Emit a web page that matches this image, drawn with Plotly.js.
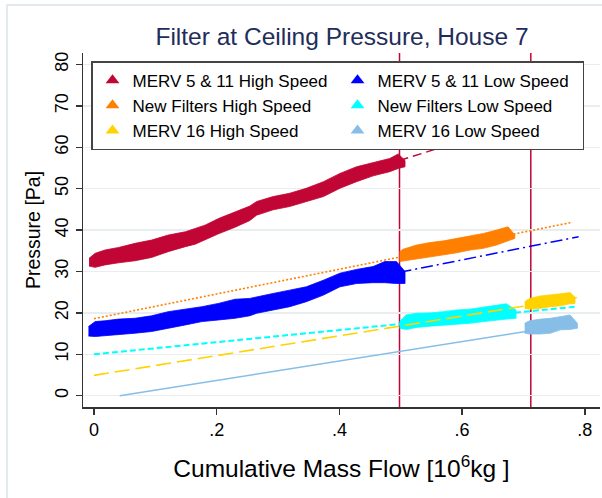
<!DOCTYPE html>
<html><head><meta charset="utf-8">
<script src="https://cdn.plot.ly/plotly-3.0.1.min.js"></script>
<style>html,body{margin:0;padding:0;background:#fff}#chart{width:602px;height:498px}</style>
</head><body><div id="chart"></div>
<script>
// ---- series names (legend order: row-major, two columns)
const legendNames = ["MERV 5 & 11 High Speed","MERV 5 & 11 Low Speed","New Filters High Speed","New Filters Low Speed","MERV 16 High Speed","MERV 16 Low Speed"];
const legendColors = ["#c10534","#0000ff","#ff7f00","#00ffff","#ffd200","#86bee7"];

// ---- measured data bands (cumulative mass flow [10^6 kg], pressure envelope [Pa])
const m511HighX  = [-0.008,0.002,0.018,0.040,0.067,0.094,0.121,0.149,0.165,0.181,0.203,0.230,0.254,0.265,0.292,0.319,0.346,0.374,0.401,0.428,0.455,0.482,0.496,0.507];
const m511HighHi = [33.2,34.4,35.2,35.8,36.8,37.6,38.8,39.6,40.4,41.2,42.8,44.4,45.8,46.9,48.1,48.9,50.1,51.7,53.7,55.3,56.3,57.3,58.4,56.8];
const m511HighLo = [31.3,31.0,31.6,32.1,32.6,33.4,34.8,36.0,36.6,37.6,39.1,40.7,42.3,43.6,44.9,45.7,46.9,48.1,50.1,51.7,53.1,54.1,54.9,55.3];

const m511LowX  = [-0.009,0.002,0.018,0.040,0.067,0.094,0.121,0.149,0.176,0.203,0.230,0.254,0.265,0.292,0.319,0.346,0.374,0.401,0.428,0.455,0.474,0.493,0.507];
const m511LowHi = [16.7,17.9,18.1,18.5,18.7,19.3,20.3,20.9,21.5,22.3,23.3,23.5,23.9,24.7,25.5,26.3,27.9,29.6,30.5,31.2,32.4,32.4,30.0];
const m511LowLo = [14.4,14.3,14.4,14.7,15.1,15.5,16.3,17.1,17.9,18.3,18.7,19.3,19.9,20.7,21.5,22.7,24.3,26.3,27.1,27.3,27.3,27.1,27.1];

const newHighX  = [0.498,0.504,0.526,0.548,0.570,0.591,0.613,0.635,0.656,0.675,0.686];
const newHighHi = [34.8,35.4,36.4,37.0,37.4,38.0,38.6,39.2,40.0,40.8,38.8];
const newHighLo = [32.4,32.4,32.9,33.6,34.0,34.5,35.2,35.6,36.4,37.4,38.0];

const newLowX  = [0.498,0.509,0.526,0.548,0.570,0.591,0.613,0.635,0.656,0.672,0.688];
const newLowHi = [17.9,19.5,19.9,20.0,20.3,20.7,20.9,21.4,21.9,22.2,20.7];
const newLowLo = [16.3,16.0,16.5,16.8,17.0,17.3,17.5,17.9,18.3,18.5,18.7];

const m16HighX  = [0.702,0.710,0.728,0.744,0.760,0.776,0.784];
const m16HighHi = [22.7,23.5,24.1,24.3,24.6,24.9,23.8];
const m16HighLo = [21.1,20.9,21.1,21.5,21.7,22.2,22.3];

const m16LowX  = [0.702,0.710,0.728,0.744,0.760,0.776,0.788];
const m16LowHi = [17.5,18.1,18.5,18.7,19.1,19.5,17.5];
const m16LowLo = [15.1,14.9,14.9,15.1,15.9,16.0,16.3];

// ---- linear fit lines (end points)
const fitM511HighX = [0.498, 0.78], fitM511HighY = [56.8, 70.0];
const fitNewHighX  = [0.0, 0.78],   fitNewHighY  = [18.6, 41.9];
const fitM511LowX  = [0.498, 0.79], fitM511LowY  = [29.8, 38.4];
const fitNewLowX   = [0.0, 0.785],  fitNewLowY   = [10.0, 21.5];
const fitM16HighX  = [0.0, 0.787],  fitM16HighY  = [4.9, 23.7];
const fitM16LowX   = [0.042, 0.712],fitM16LowY   = [0.0, 15.7];

// ---- filter change events
const filterChangeX = [0.498, 0.712];

// ---- ticks
const xTickVals = [0, 0.2, 0.4, 0.6, 0.8];
const xTickText = ["0", ".2", ".4", ".6", ".8"];
const yTickVals = [0, 10, 20, 30, 40, 50, 60, 70, 80];

const FONT = "Liberation Sans, Arial, sans-serif";

function band(x, lo, hi, color) {
  return {
    x: x.concat(x.slice().reverse()),
    y: hi.concat(lo.slice().reverse()),
    type: "scatter", mode: "lines", fill: "toself",
    fillcolor: color, line: {color: color, width: 0.8},
    showlegend: false, hoverinfo: "skip"
  };
}
function fit(x, y, color, dash, width) {
  return {x: x, y: y, type: "scatter", mode: "lines",
    line: {color: color, dash: dash, width: width}, showlegend: false, hoverinfo: "skip"};
}

const traces = [
  band(m511HighX, m511HighLo, m511HighHi, legendColors[0]),
  band(m511LowX, m511LowLo, m511LowHi, legendColors[1]),
  band(newHighX, newHighLo, newHighHi, legendColors[2]),
  band(newLowX, newLowLo, newLowHi, legendColors[3]),
  band(m16HighX, m16HighLo, m16HighHi, legendColors[4]),
  band(m16LowX, m16LowLo, m16LowHi, legendColors[5]),
  fit(fitM511HighX, fitM511HighY, legendColors[0], "9px,5px", 1.5),
  fit(fitM511LowX, fitM511LowY, legendColors[1], "12px,4px,2px,4px", 1.5),
  fit(fitNewHighX, fitNewHighY, legendColors[2], "2px,2px", 1.6),
  fit(fitNewLowX, fitNewLowY, legendColors[3], "6px,3px", 2),
  fit(fitM16HighX, fitM16HighY, legendColors[4], "15px,6px", 1.6),
  fit(fitM16LowX, fitM16LowY, legendColors[5], "solid", 1.5)
];
legendNames.forEach(function(n, i) {
  traces.push({x: [null], y: [null], type: "scatter", mode: "markers", name: n,
    marker: {symbol: "triangle-up", size: 12, color: legendColors[i]}});
});

const shapes = filterChangeX.map(function(v) {
  return {type: "line", xref: "x", yref: "paper", x0: v, x1: v, y0: 0, y1: 1,
    line: {color: "#c10534", width: 1.5}, layer: "below"};
});
shapes.push({type: "rect", xref: "paper", yref: "paper", x0: -0.147, x1: 1.03, y0: -0.3, y1: 1.1356,
  line: {color: "#e3eaee", width: 2}, layer: "below"});

const layout = {
  width: 602, height: 498,
  margin: {l: 83, r: 2, t: 53, b: 91},
  paper_bgcolor: "#ffffff", plot_bgcolor: "#ffffff",
  font: {family: FONT, color: "#000"},
  title: {text: "Filter at Ceiling Pressure, House 7", font: {family: FONT, size: 24.5, color: "#1e2d5a"},
    xref: "paper", x: 0.501, xanchor: "center", yref: "container", y: 0.926, yanchor: "middle"},
  xaxis: {
    range: [-0.0179, 0.8248], tickvals: xTickVals, ticktext: xTickText,
    showgrid: false, zeroline: false, showline: true, linecolor: "#333", linewidth: 1.5,
    ticks: "outside", ticklen: 6, tickwidth: 1.5, tickcolor: "#333",
    tickfont: {size: 18, color: "#000"},
    title: {text: "Cumulative Mass Flow [10<sup>6</sup>kg ]", font: {size: 24.5, color: "#000"}, standoff: 21}
  },
  yaxis: {
    range: [-2.73, 82.78], tickvals: yTickVals, tickangle: -90,
    showgrid: true, gridcolor: "#e8eef0", gridwidth: 1.5, zeroline: false,
    showline: true, linecolor: "#333", linewidth: 1.5,
    ticks: "outside", ticklen: 6, tickwidth: 1.5, tickcolor: "#333",
    tickfont: {size: 18, color: "#000"},
    title: {text: "Pressure [Pa]", font: {size: 19.5, color: "#000"}, standoff: 6}
  },
  legend: {
    orientation: "h", entrywidth: 200, entrywidthmode: "pixels",
    x: 0.0155, xanchor: "left", y: 0.977, yanchor: "top",
    bgcolor: "#ffffff", bordercolor: "#444", borderwidth: 1.5,
    font: {family: FONT, size: 17, color: "#000"}, traceorder: "normal"
  },
  shapes: shapes,
  showlegend: true
};

Plotly.newPlot("chart", traces, layout, {displayModeBar: false, staticPlot: true});
</script></body></html>
